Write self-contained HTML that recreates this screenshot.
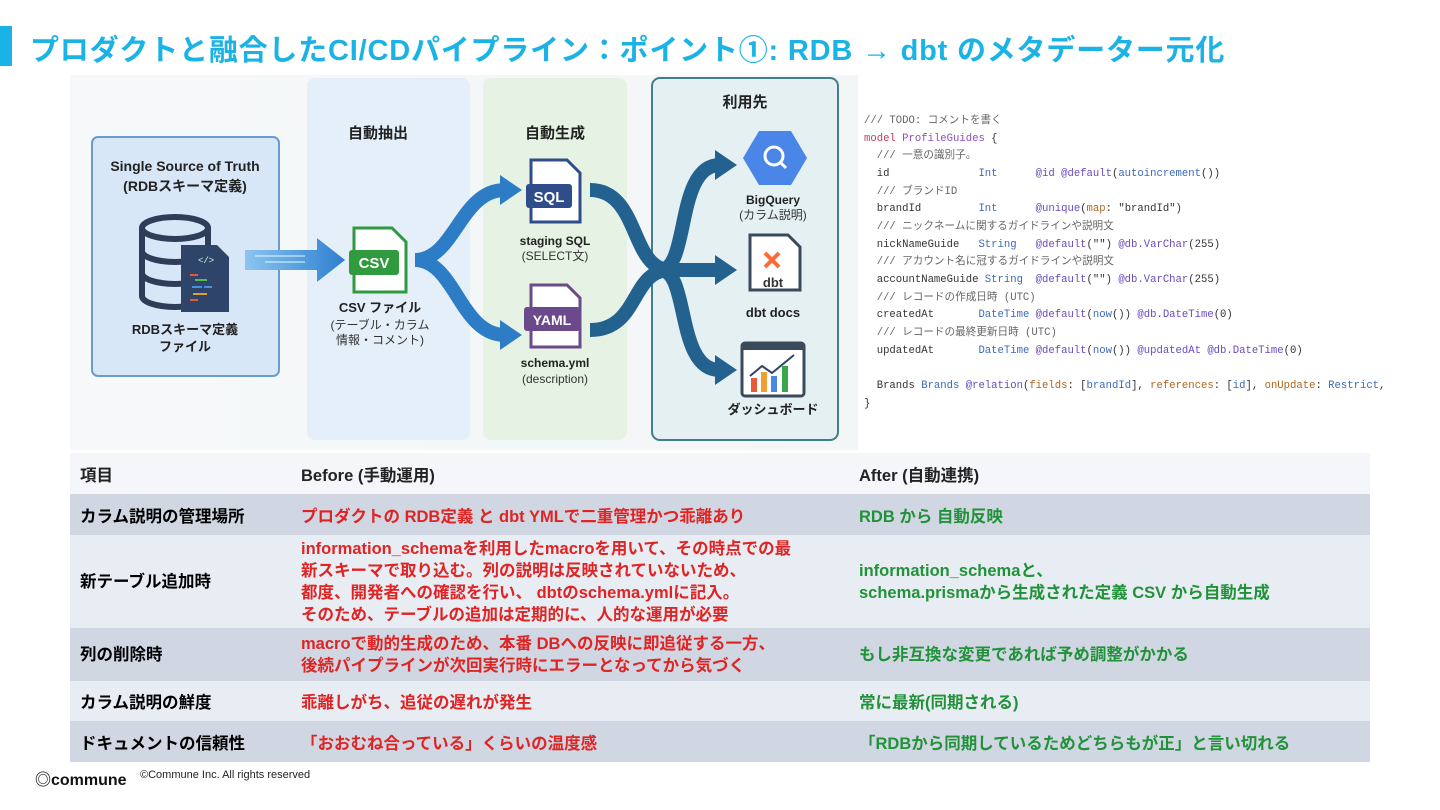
<!DOCTYPE html>
<html><head><meta charset="utf-8"><style>
*{margin:0;padding:0;box-sizing:border-box}
body{width:1440px;height:810px;background:#fff;position:relative;overflow:hidden;font-family:"Liberation Sans","Noto Sans CJK JP",sans-serif}
.t{position:absolute;white-space:nowrap}
#title{left:30px;top:27px;font-size:29px;font-weight:bold;color:#1bb3e6;letter-spacing:0.8px}
#bar{position:absolute;left:0;top:26px;width:12px;height:40px;background:#1bb3e6}
.code{position:absolute;left:864px;top:113px;font-family:"Liberation Mono","Noto Sans CJK JP",monospace;font-size:10.6px;line-height:17.65px;color:#333;white-space:pre}
.c{color:#666}.k{color:#c0405a}.n{color:#8a4fbf}.ty{color:#3a6ab8}.a{color:#6a4ac0}.o{color:#b0651e}
table{position:absolute;left:70px;top:453px;width:1300px;border-collapse:collapse;font-weight:bold;font-size:16.5px}
td{padding:0 10px;vertical-align:middle}
td:nth-child(1){width:221px}td:nth-child(2){width:558px}
.r{color:#e02424}.g{color:#22923a}
</style></head><body>
<div id="bar"></div>
<div id="title" class="t">プロダクトと融合したCI/CDパイプライン：ポイント①: RDB → dbt のメタデーター元化</div>

<svg style="position:absolute;left:0;top:0" width="860" height="455">
<defs>
<linearGradient id="bg" x1="0" x2="1"><stop offset="0" stop-color="#f6f8fa"/><stop offset="1" stop-color="#f3f6f6"/></linearGradient>
<linearGradient id="ar" x1="0" x2="1"><stop offset="0" stop-color="#8cc4f0"/><stop offset="1" stop-color="#2e7fd0"/></linearGradient>
</defs>
<rect x="70" y="75" width="788" height="375" fill="url(#bg)"/>
<rect x="307" y="78" width="163" height="362" rx="8" fill="#e4eff9"/>
<rect x="483" y="78" width="144" height="362" rx="8" fill="#e6f2e4"/>
<rect x="652" y="78" width="186" height="362" rx="8" fill="#e4f0f1" stroke="#3f7f85" stroke-width="2"/>
<rect x="92" y="137" width="187" height="239" rx="6" fill="#d8e7f7" stroke="#6a9ccf" stroke-width="2"/>
<g font-family="Liberation Sans, Noto Sans CJK JP, sans-serif" font-weight="bold" text-anchor="middle" fill="#222">
<text x="185" y="171" font-size="14">Single Source of Truth</text>
<text x="185" y="191" font-size="14">(RDBスキーマ定義)</text>
<text x="378" y="138" font-size="15">自動抽出</text>
<text x="555" y="138" font-size="15">自動生成</text>
<text x="745" y="107" font-size="15">利用先</text>
<text x="185" y="334" font-size="13">RDBスキーマ定義</text>
<text x="185" y="351" font-size="13">ファイル</text>
<text x="380" y="312" font-size="13">CSV ファイル</text>
<text x="555" y="245" font-size="12">staging SQL</text>
<text x="555" y="367" font-size="12">schema.yml</text>
<text x="773" y="204" font-size="12">BigQuery</text>
<text x="773" y="317" font-size="13">dbt docs</text>
<text x="773" y="414" font-size="13">ダッシュボード</text>
</g>
<g font-family="Liberation Sans, Noto Sans CJK JP, sans-serif" text-anchor="middle" fill="#333" font-size="12">
<text x="380" y="329">(テーブル・カラム</text><text x="380" y="344">情報・コメント)</text>
<text x="555" y="260">(SELECT文)</text><text x="555" y="383">(description)</text>
<text x="773" y="219">(カラム説明)</text>
</g>
<g fill="none" stroke="#2e3e58" stroke-width="6">
<ellipse cx="175" cy="228" rx="33" ry="11"/>
<path d="M142 228v68M208 228v68M142 251a33 11 0 0 0 66 0M142 273a33 11 0 0 0 66 0M142 296a33 11 0 0 0 66 0"/>
</g>
<path d="M181 245h36l12 12v55h-48z" fill="#2e4468"/>
<g stroke-width="2"><path d="M190 275h8" stroke="#e05a3a"/><path d="M195 280h12" stroke="#5ab85a"/><path d="M192 287h10M204 287h8" stroke="#4a90e2"/><path d="M193 294h14" stroke="#e0a030"/><path d="M190 300h8" stroke="#e05a3a"/></g>
<text x="198" y="263" font-size="9" fill="#cfe" font-family="Liberation Mono">&lt;/&gt;</text>
<path d="M245 250h72v-12l28 22-28 22v-12h-72z" fill="url(#ar)"/>
<path d="M255 256h50M265 262h40" stroke="#dff" stroke-width="1"/>
<path d="M354 228h38l14 14v50h-52z" fill="#fff" stroke="#2f9a3e" stroke-width="3"/>
<rect x="349" y="250" width="50" height="25" rx="3" fill="#2f9a3e"/>
<text x="374" y="268" font-size="15" font-weight="bold" fill="#fff" text-anchor="middle" font-family="Liberation Sans">CSV</text>
<g fill="none" stroke="#2d7cc6" stroke-width="14">
<path d="M415 260c40 0 45-70 90-70"/>
<path d="M415 260c40 0 45 75 90 75"/>
</g>
<path d="M500 175l22 15-22 15z M500 320l22 15-22 15z" fill="#2d7cc6"/>
<g fill="none" stroke="#23628f" stroke-width="14">
<path d="M590 190c50 0 40 80 80 80"/>
<path d="M590 330c50 0 40-60 80-60"/>
<path d="M660 270c30 0 15-105 60-105"/>
<path d="M660 270h60"/>
<path d="M660 270c30 0 15 100 60 100"/>
</g>
<path d="M715 150l22 15-22 15zM715 255l22 15-22 15zM715 355l22 15-22 15z" fill="#23628f"/>
<path d="M531 160h36l13 13v49h-49z" fill="#fff" stroke="#2f4d8a" stroke-width="3"/>
<rect x="526" y="184" width="46" height="24" rx="3" fill="#2f4d8a"/>
<text x="549" y="202" font-size="15" font-weight="bold" fill="#fff" text-anchor="middle" font-family="Liberation Sans">SQL</text>
<path d="M531 285h36l13 13v49h-49z" fill="#fff" stroke="#6a4a8a" stroke-width="3"/>
<rect x="524" y="307" width="56" height="24" rx="3" fill="#6a4a8a"/>
<text x="552" y="325" font-size="14" font-weight="bold" fill="#fff" text-anchor="middle" font-family="Liberation Sans">YAML</text>
<path d="M759 131h32l16 27-16 27h-32l-16-27z" fill="#4a86e8"/>
<circle cx="774" cy="156" r="9" fill="none" stroke="#fff" stroke-width="3"/><path d="M780 162l6 6" stroke="#fff" stroke-width="3"/>
<path d="M750 235h38l12 12v43h-50z" fill="#fff" stroke="#3a4a5a" stroke-width="3"/>
<path d="M765 253l14 14M779 253l-14 14" stroke="#ff6a3a" stroke-width="4"/>
<text x="773" y="287" font-size="13" font-weight="bold" fill="#333" text-anchor="middle" font-family="Liberation Sans">dbt</text>
<rect x="742" y="343" width="62" height="53" rx="3" fill="#fff" stroke="#3a4a5a" stroke-width="3"/>
<path d="M742 343h62v7h-62z" fill="#3a4a5a"/>
<rect x="751" y="378" width="6" height="14" fill="#e85a3a"/><rect x="761" y="372" width="6" height="20" fill="#f0a030"/><rect x="771" y="376" width="6" height="16" fill="#4a86e8"/><rect x="782" y="366" width="6" height="26" fill="#3aa84a"/>
<path d="M750 376l12-10 10 7 22-18" fill="none" stroke="#2e4468" stroke-width="2"/>
</svg>

<div class="code"><span class="c">/// TODO: コメントを書く</span>
<span class="k">model</span> <span class="n">ProfileGuides</span> {
  <span class="c">/// 一意の識別子。</span>
  id              <span class="ty">Int</span>      <span class="a">@id @default</span>(<span class="ty">autoincrement</span>())
  <span class="c">/// ブランドID</span>
  brandId         <span class="ty">Int</span>      <span class="a">@unique</span>(<span class="o">map</span>: "brandId")
  <span class="c">/// ニックネームに関するガイドラインや説明文</span>
  nickNameGuide   <span class="ty">String</span>   <span class="a">@default</span>("") <span class="a">@db.VarChar</span>(255)
  <span class="c">/// アカウント名に冠するガイドラインや説明文</span>
  accountNameGuide <span class="ty">String</span>  <span class="a">@default</span>("") <span class="a">@db.VarChar</span>(255)
  <span class="c">/// レコードの作成日時 (UTC)</span>
  createdAt       <span class="ty">DateTime</span> <span class="a">@default</span>(<span class="ty">now</span>()) <span class="a">@db.DateTime</span>(0)
  <span class="c">/// レコードの最終更新日時 (UTC)</span>
  updatedAt       <span class="ty">DateTime</span> <span class="a">@default</span>(<span class="ty">now</span>()) <span class="a">@updatedAt @db.DateTime</span>(0)

  Brands <span class="ty">Brands</span> <span class="a">@relation</span>(<span class="o">fields</span>: [<span class="ty">brandId</span>], <span class="o">references</span>: [<span class="ty">id</span>], <span class="o">onUpdate</span>: <span class="ty">Restrict</span>,
}</div>

<table>
<tr style="height:41px;background:#f4f6f9;color:#222"><td>項目</td><td>Before (手動運用)</td><td>After (自動連携)</td></tr>
<tr style="height:41px;background:#d0d7e3"><td>カラム説明の管理場所</td><td class="r">プロダクトの RDB定義 と dbt YMLで二重管理かつ乖離あり</td><td class="g">RDB から 自動反映</td></tr>
<tr style="height:93px;background:#e8ecf3;line-height:22px"><td>新テーブル追加時</td><td class="r">information_schemaを利用したmacroを用いて、その時点での最<br>新スキーマで取り込む。列の説明は反映されていないため、<br>都度、開発者への確認を行い、 dbtのschema.ymlに記入。<br>そのため、テーブルの追加は定期的に、人的な運用が必要</td><td class="g">information_schemaと、<br>schema.prismaから生成された定義 CSV から自動生成</td></tr>
<tr style="height:53px;background:#d0d7e3;line-height:22px"><td>列の削除時</td><td class="r">macroで動的生成のため、本番 DBへの反映に即追従する一方、<br>後続パイプラインが次回実行時にエラーとなってから気づく</td><td class="g">もし非互換な変更であれば予め調整がかかる</td></tr>
<tr style="height:40px;background:#e8ecf3"><td>カラム説明の鮮度</td><td class="r">乖離しがち、追従の遅れが発生</td><td class="g">常に最新(同期される)</td></tr>
<tr style="height:41px;background:#d0d7e3"><td>ドキュメントの信頼性</td><td class="r">「おおむね合っている」くらいの温度感</td><td class="g">「RDBから同期しているためどちらもが正」と言い切れる</td></tr>
</table>
<div class="t" style="left:35px;top:766px;font-size:16px;font-weight:bold;color:#111">◎commune</div>
<div class="t" style="left:140px;top:769px;font-size:11px;color:#222">©Commune Inc. All rights reserved</div>
</body></html>
